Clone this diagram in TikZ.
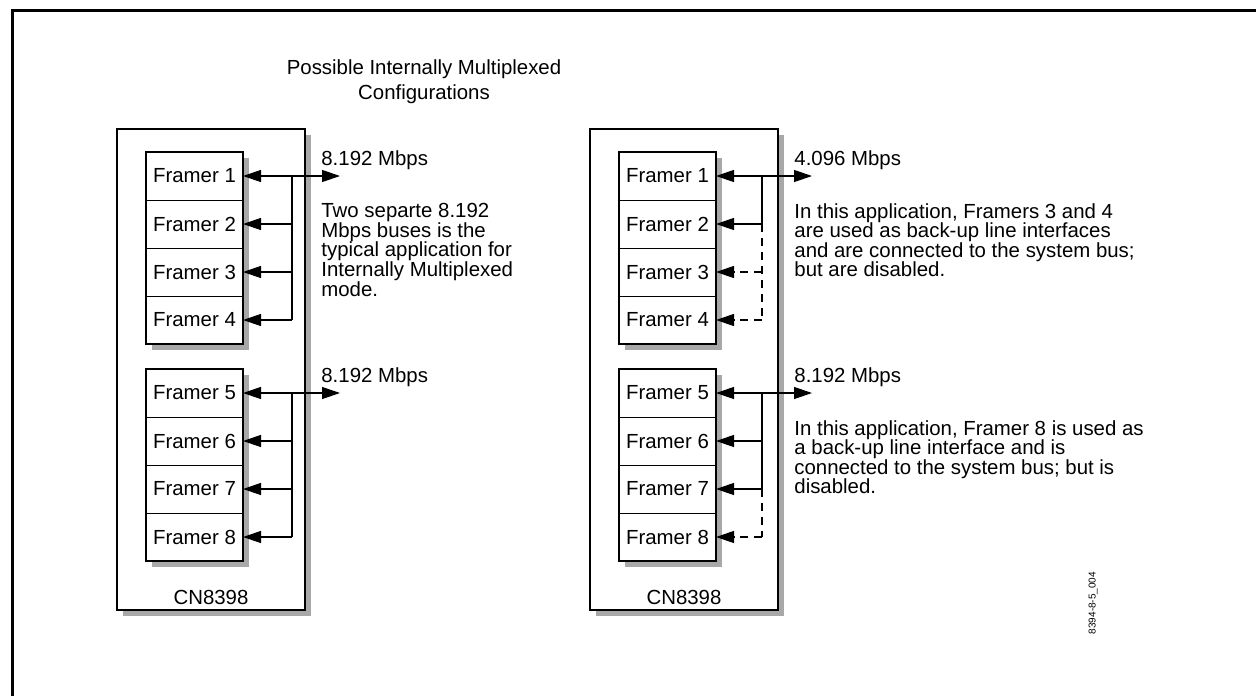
\documentclass[tikz,border=0pt]{standalone}
\usepackage{fontspec}
\setmainfont{Liberation Sans}
\usetikzlibrary{positioning, arrows.meta, shadows}

\definecolor{shade}{gray}{0.66}

\begin{document}
\begin{tikzpicture}[x=0.5pt, y=-0.5pt,
    font=\fontsize{10.2}{9.8}\selectfont,
    chip/.style={draw, line width=1.2pt, fill=white, inner sep=0pt, outer sep=0pt,
      minimum width=94pt, minimum height=240.5pt,
      drop shadow={shadow xshift=3pt, shadow yshift=-3pt, fill=shade, opacity=1}},
    group/.style={draw, line width=1.2pt, fill=white, inner sep=0pt, outer sep=0pt,
      minimum width=48.5pt, minimum height=96pt,
      drop shadow={shadow xshift=3pt, shadow yshift=-3pt, fill=shade, opacity=1}},
    framer/.style={draw, line width=0.5pt, inner sep=0pt, outer sep=0pt,
      minimum width=48.5pt, minimum height=24pt},
    wire/.style={line width=0.6pt},
    off/.style={wire, dash pattern=on 4pt off 3pt},
    note/.style={anchor=north west, align=left, inner sep=0pt},
    >={Triangle[length=9pt, width=6pt]}]

  \useasboundingbox (0,0) rectangle (1256,696);
  \draw[line width=1.5pt] (12,696) -- (12,10) -- (1256,10);

  \node[align=center, font=\fontsize{10.2}{12.6}\selectfont] (title) at (424,82)
    {Possible Internally Multiplexed\\Configurations};

  % left device
  \node[chip] (chipA) at (211,369.5) {};
  \node (nameA) at (211,597) {CN8398};
  \node[group] (gA1) at (194.5,248) {};
  \node[group] (gA2) at (194.5,465) {};
  \node[framer, anchor=north] (fA1) at (gA1.north) {Framer 1};
  \node[framer, below=0pt of fA1] (fA2) {Framer 2};
  \node[framer, below=0pt of fA2] (fA3) {Framer 3};
  \node[framer, below=0pt of fA3] (fA4) {Framer 4};
  \node[framer, anchor=north] (fA5) at (gA2.north) {Framer 5};
  \node[framer, below=0pt of fA5] (fA6) {Framer 6};
  \node[framer, below=0pt of fA6] (fA7) {Framer 7};
  \node[framer, below=0pt of fA7] (fA8) {Framer 8};

  \coordinate (busA) at (292,0);
  \coordinate (tipA1) at (340,176);
  \coordinate (tipA5) at (340,393);
  \draw[wire, <->] (fA1.east) -- (tipA1);
  \draw[wire, <->] (fA5.east) -- (tipA5);
  \draw[wire] (fA1.east -| busA) -- (fA4.east -| busA);
  \draw[wire] (fA5.east -| busA) -- (fA8.east -| busA);
  \foreach \i in {2,3,4,6,7,8}
    \draw[wire, ->] (fA\i.east -| busA) -- (fA\i.east);

  \node[note, anchor=west] (rateA1) at (321,160) {8.192 Mbps};
  \node[note, anchor=west] (rateA5) at (321,377) {8.192 Mbps};
  \node[note] (textA) at (321,203) {Two separte 8.192\\Mbps buses is the\\typical application for\\Internally Multiplexed\\mode.};

  % right device
  \node[chip] (chipB) at (684,369.5) {};
  \node (nameB) at (684,597) {CN8398};
  \node[group] (gB1) at (667.5,248) {};
  \node[group] (gB2) at (667.5,465) {};
  \node[framer, anchor=north] (fB1) at (gB1.north) {Framer 1};
  \node[framer, below=0pt of fB1] (fB2) {Framer 2};
  \node[framer, below=0pt of fB2] (fB3) {Framer 3};
  \node[framer, below=0pt of fB3] (fB4) {Framer 4};
  \node[framer, anchor=north] (fB5) at (gB2.north) {Framer 5};
  \node[framer, below=0pt of fB5] (fB6) {Framer 6};
  \node[framer, below=0pt of fB6] (fB7) {Framer 7};
  \node[framer, below=0pt of fB7] (fB8) {Framer 8};

  \coordinate (busB) at (762,0);
  \coordinate (tipB1) at (812,176);
  \coordinate (tipB5) at (812,393);
  \draw[wire, <->] (fB1.east) -- (tipB1);
  \draw[wire, <->] (fB5.east) -- (tipB5);
  \draw[wire] (fB1.east -| busB) -- (fB2.east -| busB);
  \draw[off] (fB2.east -| busB) -- (fB4.east -| busB);
  \draw[wire] (fB5.east -| busB) -- (fB7.east -| busB);
  \draw[off] (fB7.east -| busB) -- (fB8.east -| busB);
  \foreach \i in {2,6,7}
    \draw[wire, ->] (fB\i.east -| busB) -- (fB\i.east);
  \foreach \i in {3,4,8}
    \draw[off, ->] (fB\i.east -| busB) -- (fB\i.east);

  \node[note, anchor=west] (rateB1) at (794,160) {4.096 Mbps};
  \node[note, anchor=west] (rateB5) at (794,377) {8.192 Mbps};
  \node[note] (textB1) at (794,203) {In this application, Framers 3 and 4\\are used as back-up line interfaces\\and are connected to the system bus;\\but are disabled.};
  \node[note] (textB5) at (794,420) {In this application, Framer 8 is used as\\a back-up line interface and is\\connected to the system bus; but is\\disabled.};

  \node[rotate=90, font=\fontsize{5}{6}\selectfont] (figid) at (1093,603) {8394-8-5\_004};
\end{tikzpicture}
\end{document}
